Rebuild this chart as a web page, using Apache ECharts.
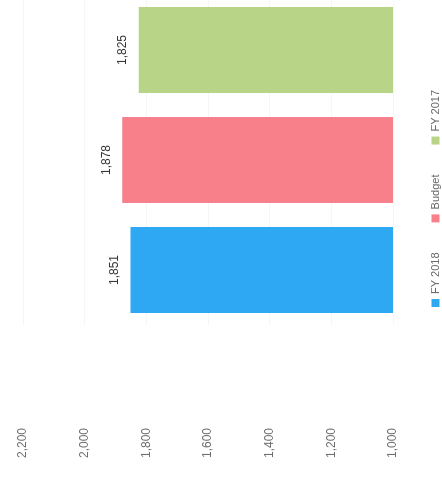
<!DOCTYPE html>
<html>
<head>
<meta charset="utf-8">
<script src="https://cdn.jsdelivr.net/npm/echarts@6/dist/echarts.min.js"></script>
<style>
  html, body { margin: 0; padding: 0; background: #fff; overflow: hidden; width: 442px; height: 478px; }
  /* the chart is laid out sideways: drawn upright, then turned a quarter turn */
  #chart {
    position: absolute; left: 0; top: 0;
    width: 500px; height: 442px;
    transform-origin: 0 0;
    transform: translate(0, 478px) rotate(-90deg);
  }
</style>
</head>
<body>
<div id="chart"></div>
<script>
// Expense totals by period
const categories = ['FY 2018', 'Budget', 'FY 2017'];
const values = [1851, 1878, 1825];
const seriesColors = ['#2ea8f2', '#f7808a', '#b8d486'];
const valueTicks = [1000, 1200, 1400, 1600, 1800, 2000, 2200];

const fmt = v => Number(v).toLocaleString('en-US');

const chart = echarts.init(document.getElementById('chart'), null, { renderer: 'canvas' });

const series = categories.map((name, i) => ({
  name: name,
  type: 'bar',
  barWidth: 86,
  barGap: '-100%',
  itemStyle: { color: seriesColors[i] },
  label: {
    show: true,
    position: 'top',
    distance: 10,
    color: '#333',
    fontSize: 12,
    fontFamily: 'Liberation Sans, Arial, sans-serif',
    formatter: p => fmt(p.value)
  },
  data: categories.map((c, j) => (j === i ? values[i] : null))
}));

chart.setOption({
  animation: false,
  backgroundColor: '#fff',
  grid: { left: 153, right: 17, top: 23, bottom: 49, containLabel: false },
  legend: {
    data: categories,
    left: 166,
    top: 425,
    icon: 'rect',
    itemWidth: 8,
    itemHeight: 8,
    itemGap: 30,
    textStyle: { color: '#666', fontSize: 11, fontFamily: 'Liberation Sans, Arial, sans-serif' }
  },
  xAxis: {
    type: 'category',
    data: categories,
    axisLine: { show: false },
    axisTick: { show: false },
    axisLabel: { show: false }
  },
  yAxis: {
    type: 'value',
    min: valueTicks[0],
    max: valueTicks[valueTicks.length - 1],
    interval: valueTicks[1] - valueTicks[0],
    axisLine: { show: false },
    axisTick: { show: false },
    splitLine: { show: true, lineStyle: { color: '#f6f6f6', width: 1 } },
    axisLabel: {
      margin: 103,
      color: '#6e6e6e',
      fontSize: 12,
      fontFamily: 'Liberation Sans, Arial, sans-serif',
      formatter: v => fmt(v)
    }
  },
  series: series
});
</script>
</body>
</html>
